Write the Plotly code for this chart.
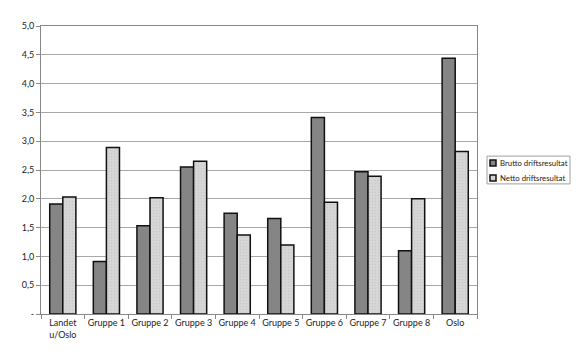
import plotly.graph_objects as go

categories = ["Landet<br>u/Oslo", "Gruppe 1", "Gruppe 2", "Gruppe 3", "Gruppe 4",
              "Gruppe 5", "Gruppe 6", "Gruppe 7", "Gruppe 8", "Oslo"]
brutto = [1.91, 0.91, 1.53, 2.55, 1.75, 1.66, 3.41, 2.47, 1.10, 4.44]
netto = [2.03, 2.89, 2.02, 2.65, 1.37, 1.20, 1.94, 2.39, 2.00, 2.82]
ytick_vals = [0, 0.5, 1.0, 1.5, 2.0, 2.5, 3.0, 3.5, 4.0, 4.5, 5.0]
ytick_text = ["-", "0,5", "1,0", "1,5", "2,0", "2,5", "3,0", "3,5", "4,0", "4,5", "5,0"]
series_names = ["Brutto driftsresultat", "Netto driftsresultat"]
series_colors = ["#858585", "#d4d4d4"]

font = "Lato, Open Sans, sans-serif"

# page renders with an 8px body offset; compensate
OFF = 8
L, R, T, B = 41 - OFF, 477 - OFF, 24 - OFF, 314 - OFF
FW, FH = 580 - OFF, 361 - OFF

fig = go.Figure()
fig.add_trace(go.Bar(
    x=categories, y=brutto, name=series_names[0],
    marker=dict(color=series_colors[0], line=dict(color="#111111", width=1.5)),
))
fig.add_trace(go.Bar(
    x=categories, y=netto, name=series_names[1],
    marker=dict(color=series_colors[1], line=dict(color="#111111", width=1.5),
                pattern=dict(shape=".", size=3, solidity=0.15, fgcolor="#b8b8b8", bgcolor="#d6d6d6")),
))

W, H = float(R - L), float(B - T)
def px_x(p):
    return (p - OFF - L) / W
def px_y(p):
    return (B - (p - OFF)) / H

fig.add_shape(type="rect", xref="paper", yref="paper", layer="above",
              x0=px_x(487), x1=px_x(570), y0=px_y(183), y1=px_y(155),
              line=dict(color="#a0a0a0", width=1), fillcolor="rgba(255,255,255,0)")
for i, (nm, col) in enumerate(zip(series_names, series_colors)):
    cy = 162 + i * 15
    fig.add_shape(type="rect", xref="paper", yref="paper",
                  x0=px_x(490), x1=px_x(496), y0=px_y(cy + 3), y1=px_y(cy - 3),
                  line=dict(color="#111111", width=1.5), fillcolor=col)
    fig.add_annotation(xref="paper", yref="paper", x=px_x(497.5), y=px_y(cy),
                       xanchor="left", yanchor="middle", text=nm, showarrow=False,
                       font=dict(family=font, size=7.8, color="#222222"))

fig.update_layout(
    width=FW, height=FH,
    margin=dict(l=L, r=FW - R, t=T, b=FH - B),
    paper_bgcolor="white", plot_bgcolor="white",
    barmode="group", bargap=0.4, bargroupgap=0,
    font=dict(family=font, size=9, color="#222222"),
    showlegend=False,
)
fig.update_xaxes(
    showgrid=False, showline=True, linecolor="#888888", linewidth=1,
    ticks="outside", tickson="boundaries", ticklen=4, tickcolor="#888888",
    mirror=True, tickfont=dict(size=9), tickangle=0,
)
fig.update_yaxes(
    range=[0, 5], tickvals=ytick_vals, ticktext=ytick_text,
    showgrid=True, gridcolor="#a8a8a8", gridwidth=1,
    showline=True, linecolor="#888888", linewidth=1, mirror=True,
    ticks="outside", ticklen=4, tickcolor="#888888",
    tickfont=dict(size=9), zeroline=False,
)
fig.write_html("out.html")
